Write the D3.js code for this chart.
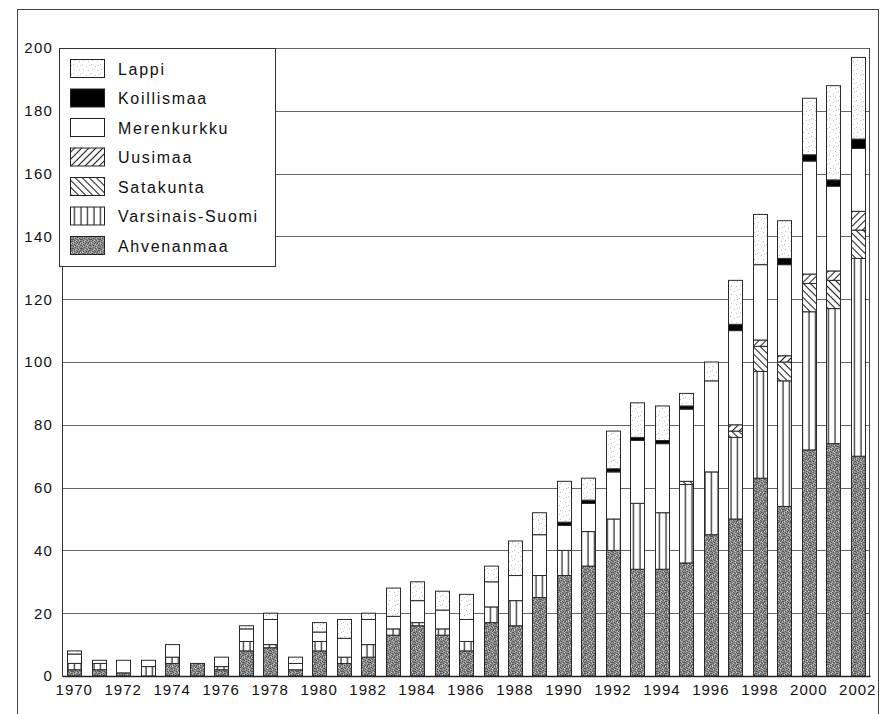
<!DOCTYPE html>
<html><head><meta charset="utf-8">
<script src="https://cdn.jsdelivr.net/npm/d3@7/dist/d3.min.js"></script>
<style>body{margin:0;background:#fff}</style></head>
<body>
<script>
const years = [1970,1971,1972,1973,1974,1975,1976,1977,1978,1979,1980,1981,1982,1983,1984,1985,1986,1987,1988,1989,1990,1991,1992,1993,1994,1995,1996,1997,1998,1999,2000,2001,2002];
const ahvenanmaa     = [2,2,1,0,4,4,2,8,9,2,8,4,6,13,16,13,8,17,16,25,32,35,40,34,34,36,45,50,63,54,72,74,70];
const varsinaisSuomi = [2,2,0,3,2,0,1,3,1,0,3,2,4,2,1,2,3,5,8,7,8,11,10,21,18,25,20,26,34,40,44,43,63];
const satakunta      = [0,0,0,0,0,0,0,0,0,0,0,0,0,0,0,0,0,0,0,0,0,0,0,0,0,1,0,2,8,6,9,9,9];
const uusimaa        = [0,0,0,0,0,0,0,0,0,0,0,0,0,0,0,0,0,0,0,0,0,0,0,0,0,0,0,2,2,2,3,3,6];
const merenkurkku    = [3,1,4,2,4,0,3,4,8,2,3,6,8,4,7,6,7,8,8,13,8,9,15,20,22,23,29,30,24,29,36,27,20];
const koillismaa     = [0,0,0,0,0,0,0,0,0,0,0,0,0,0,0,0,0,0,0,0,1,1,1,1,1,1,0,2,0,2,2,2,3];
const lappi          = [1,0,0,0,0,0,0,1,2,2,3,6,2,9,6,6,8,5,11,7,13,7,12,11,11,4,6,14,16,12,18,30,26];
const xTickLabels = ["1970","1972","1974","1976","1978","1980","1982","1984","1986","1988","1990","1992","1994","1996","1998","2000","2002"];
const yTicks = [0,20,40,60,80,100,120,140,160,180,200];
const seriesNames = ["Ahvenanmaa","Varsinais-Suomi","Satakunta","Uusimaa","Merenkurkku","Koillismaa","Lappi"];
const seriesValues = [ahvenanmaa,varsinaisSuomi,satakunta,uusimaa,merenkurkku,koillismaa,lappi];
const legendOrder = ["Lappi","Koillismaa","Merenkurkku","Uusimaa","Satakunta","Varsinais-Suomi","Ahvenanmaa"];

const rows = years.map((y,i)=>{const r={year:y};seriesNames.forEach((n,k)=>r[n]=seriesValues[k][i]);return r;});

const W=885,H=714;
const svg=d3.select("body").append("svg").attr("width",W).attr("height",H);
const defs=svg.append("defs");

function pat(id,w,h){return defs.append("pattern").attr("id",id).attr("patternUnits","userSpaceOnUse").attr("width",w).attr("height",h);}
// Ahvenanmaa: dark grey stipple (fixed texture pixels)
{const p=pat("pA",9,9);p.append("rect").attr("width",9).attr("height",9).attr("fill","#8e8e8e");
 const dark=[[0,0],[4,0],[7,0],[2,1],[6,1],[0,2],[3,2],[8,2],[5,3],[1,3],[7,4],[3,4],[0,5],[5,5],[8,5],[2,6],[6,6],[4,7],[0,7],[7,8],[2,8],[5,8],[1,5],[8,7]];
 dark.forEach(d=>p.append("rect").attr("x",d[0]).attr("y",d[1]).attr("width",1).attr("height",1).attr("fill","#565656"));
 const light=[[1,0],[5,1],[8,0],[2,3],[6,4],[4,6],[1,8],[7,6],[3,7],[6,2]];
 light.forEach(d=>p.append("rect").attr("x",d[0]).attr("y",d[1]).attr("width",1).attr("height",1).attr("fill","#c4c4c4"));}
// Lappi: very light stipple
{const p=pat("pL",9,9);p.append("rect").attr("width",9).attr("height",9).attr("fill","#fff");
 [[1,1],[5,3],[2,6],[7,7],[8,2]].forEach(d=>p.append("rect").attr("x",d[0]).attr("y",d[1]).attr("width",1).attr("height",1).attr("fill","#c2c2c2"));}
// Varsinais-Suomi: vertical lines
{const p=pat("pV",6.5,10);p.append("rect").attr("width",6.5).attr("height",10).attr("fill","#fff");
 p.append("line").attr("x1",3).attr("x2",3).attr("y1",0).attr("y2",10).attr("stroke","#222").attr("stroke-width",1.2);}
// Uusimaa: forward diagonal
{const p=pat("pU",5,5);p.attr("patternTransform","rotate(45)");p.append("rect").attr("width",5).attr("height",5).attr("fill","#fff");
 p.append("line").attr("x1",2.5).attr("x2",2.5).attr("y1",0).attr("y2",5).attr("stroke","#222").attr("stroke-width",1.1);}
// Satakunta: backward diagonal
{const p=pat("pS",5,5);p.attr("patternTransform","rotate(-45)");p.append("rect").attr("width",5).attr("height",5).attr("fill","#fff");
 p.append("line").attr("x1",2.5).attr("x2",2.5).attr("y1",0).attr("y2",5).attr("stroke","#222").attr("stroke-width",1.1);}

const fills={"Ahvenanmaa":"url(#pA)","Varsinais-Suomi":"url(#pV)","Satakunta":"url(#pS)","Uusimaa":"url(#pU)","Merenkurkku":"#fff","Koillismaa":"#000","Lappi":"url(#pL)"};

// outer frame
svg.append("rect").attr("x",17.5).attr("y",9.5).attr("width",861).attr("height",720).attr("fill","none").attr("stroke","#444").attr("stroke-width",1);

const x=d3.scaleBand().domain(years).range([62,870]).paddingInner(0.43).paddingOuter(0.215);
const y=d3.scaleLinear().domain([0,200]).range([676,48]);

const font="'Liberation Sans', Arial, Helvetica, sans-serif";

// gridlines
svg.append("g").selectAll("line").data(yTicks.filter(t=>t>0)).join("line")
 .attr("x1",62).attr("x2",869).attr("y1",d=>Math.round(y(d))+0.5).attr("y2",d=>Math.round(y(d))+0.5)
 .attr("stroke","#666").attr("stroke-width",1);

// y axis
const yAxis=d3.axisLeft(y).tickValues(yTicks).tickSize(0).tickPadding(10).tickFormat(d3.format("d"));
const gy=svg.append("g").attr("transform","translate(62,0)").call(yAxis);
gy.select(".domain").attr("stroke","#333");
gy.selectAll("text").attr("font-family",font).attr("font-size",15).attr("letter-spacing","1.2px").attr("fill","#111").attr("x",-9);

// right border of plot
svg.append("line").attr("x1",869.5).attr("x2",869.5).attr("y1",48).attr("y2",676).attr("stroke","#444");

// stacked bars
const stack=d3.stack().keys(seriesNames)(rows);
const gb=svg.append("g");
stack.forEach(s=>{
  gb.append("g").selectAll("rect").data(s.filter(d=>d[1]-d[0]>0)).join("rect")
   .attr("x",d=>Math.round(x(d.data.year))+0.5)
   .attr("y",d=>y(d[1]))
   .attr("width",Math.round(x.bandwidth()))
   .attr("height",d=>y(d[0])-y(d[1]))
   .attr("fill",fills[s.key]).attr("stroke","#2a2a2a").attr("stroke-width",1);
});

// x axis
const xAxis=d3.axisBottom(x).tickValues(years.filter(yy=>xTickLabels.includes(String(yy)))).tickSize(0).tickPadding(8);
const gx=svg.append("g").attr("transform","translate(0,676)").call(xAxis);
gx.select(".domain").attr("stroke","#222").attr("stroke-width",1.5);
gx.selectAll("text").attr("font-family",font).attr("font-size",15).attr("letter-spacing","1px").attr("fill","#111");

// legend
const lg=svg.append("g");
lg.append("rect").attr("x",59.5).attr("y",48.5).attr("width",216).attr("height",218).attr("fill","#fff").attr("stroke","#333");
legendOrder.forEach((n,i)=>{
  const cy=69+i*29.5;
  lg.append("rect").attr("x",70.5).attr("y",cy-9.5).attr("width",34).attr("height",18).attr("fill",fills[n]).attr("stroke","#222");
  lg.append("text").attr("x",118).attr("y",cy+5.5).text(n).attr("font-family",font).attr("font-size",16).attr("letter-spacing","1.7px").attr("fill","#111");
});
</script>
</body></html>
